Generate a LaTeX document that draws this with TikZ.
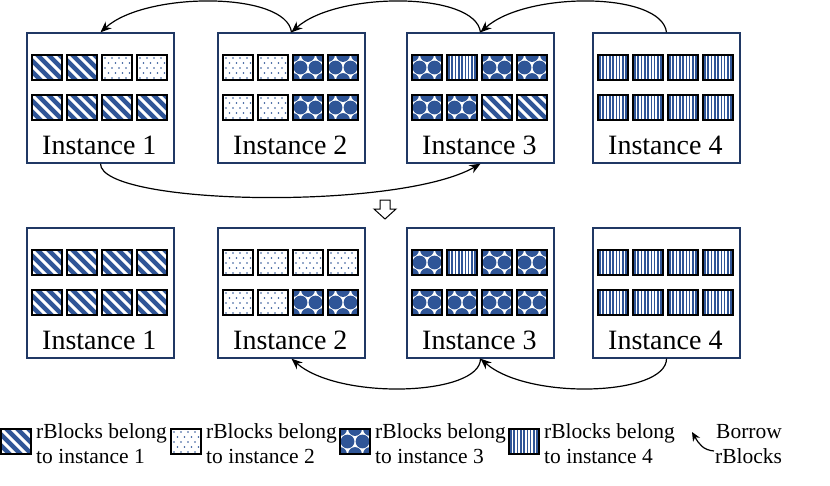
\documentclass[tikz,border=0pt]{standalone}
\usepackage{fontspec}
\setmainfont{Liberation Serif}
\usetikzlibrary{calc,arrows.meta}
\definecolor{pblue}{RGB}{47,85,151}
\definecolor{navy}{RGB}{32,56,100}
\newcommand{\patD}{\fill[pblue] (0,0) rectangle (30,25);
  \foreach \k in {-33,-22,...,33} \draw[white, line width=3pt] (\k,0) -- ++(25,25);}
\newcommand{\patP}{\fill[white] (0,0) rectangle (30,25);
  \foreach \j in {0,...,4} \foreach \i in {0,...,4} \fill[pblue] ({3+7*\i+mod(\j,2)*3.5},{3+5*\j}) circle (0.8);}
\newcommand{\patX}{\fill[white] (0,0) rectangle (30,25);
  \foreach \px/\py in {0/0,15/0,30/0,7.5/12.5,22.5/12.5,0/25,15/25,30/25}
    \fill[pblue] (\px,\py) circle (6.9);}
\newcommand{\patV}{\fill[white] (0,0) rectangle (30,25);
  \foreach \k in {0,...,8} \fill[pblue] ({1+3.3*\k},0) rectangle ++(1.6,25);}
\newcommand{\rblk}[3]{%
  \begin{scope}[shift={(#1,#2)}]
    \begin{scope}
      \clip (0,0) rectangle (30,25);
      \csname pat#3\endcsname
    \end{scope}
    \draw[line width=1.8pt] (0,0) rectangle (30,25);
  \end{scope}}
\newcommand{\irow}[6]{%
  \rblk{#1+5}{#2}{#3}\rblk{#1+40}{#2}{#4}\rblk{#1+75}{#2}{#5}\rblk{#1+110}{#2}{#6}}
\tikzset{
  ibox/.style={draw=navy, line width=1.4pt, fill=white, minimum width=147pt, minimum height=130pt, inner sep=0pt},
  itext/.style={inner sep=0pt, anchor=base west},
  ltext/.style={inner sep=0pt, anchor=base west},
  conn/.style={-{Stealth[length=11pt,width=9pt]}, line width=1.2pt},
  connsmall/.style={-{Stealth[length=9pt,width=8pt]}, line width=1.2pt},
}
\newcommand{\itx}[1]{\fontsize{28}{32}\selectfont #1}
\newcommand{\ltx}[1]{\fontsize{21.5}{25}\selectfont #1}
\begin{document}
\begin{tikzpicture}[x=1pt,y=-1pt]
\useasboundingbox (0,0) rectangle (830,485);
% top row
\node[ibox] (a1) at (100.5,98) {};
\node[ibox] (a2) at (291.5,98) {};
\node[ibox] (a3) at (480.5,98) {};
\node[ibox] (a4) at (666.5,98) {};
\irow{27}{55}{D}{D}{P}{P}
\irow{27}{95}{D}{D}{D}{D}
\irow{218}{55}{P}{P}{X}{X}
\irow{218}{95}{P}{P}{X}{X}
\irow{407}{55}{X}{V}{X}{X}
\irow{407}{95}{X}{X}{D}{D}
\irow{593}{55}{V}{V}{V}{V}
\irow{593}{95}{V}{V}{V}{V}
\node[itext] (a1t) at (42,154) {\itx{Instance 1}};
\node[itext] (a2t) at (233,154) {\itx{Instance 2}};
\node[itext] (a3t) at (422,154) {\itx{Instance 3}};
\node[itext] (a4t) at (608,154) {\itx{Instance 4}};
% bottom row
\node[ibox] (b1) at (100.5,293) {};
\node[ibox] (b2) at (291.5,293) {};
\node[ibox] (b3) at (480.5,293) {};
\node[ibox] (b4) at (666.5,293) {};
\irow{27}{250}{D}{D}{D}{D}
\irow{27}{290}{D}{D}{D}{D}
\irow{218}{250}{P}{P}{P}{P}
\irow{218}{290}{P}{P}{X}{X}
\irow{407}{250}{X}{V}{X}{X}
\irow{407}{290}{X}{X}{X}{X}
\irow{593}{250}{V}{V}{V}{V}
\irow{593}{290}{V}{V}{V}{V}
\node[itext] (b1t) at (42,349) {\itx{Instance 1}};
\node[itext] (b2t) at (233,349) {\itx{Instance 2}};
\node[itext] (b3t) at (422,349) {\itx{Instance 3}};
\node[itext] (b4t) at (608,349) {\itx{Instance 4}};
% top arcs
\draw[conn] (a4.north) .. controls ($(a4.north)+(-5,-41)$) and ($(a3.north)+(45,-41)$) .. (a3.north);
\draw[conn] (a3.north) .. controls ($(a3.north)+(-5,-41)$) and ($(a2.north)+(45,-41)$) .. (a2.north);
\draw[conn] (a2.north) .. controls ($(a2.north)+(-5,-41)$) and ($(a1.north)+(45,-41)$) .. (a1.north);
\draw[conn] (a1.south) .. controls ($(a1.south)+(0,42)$) and ($(a3.south)+(-82,47)$) .. (a3.south);
% bottom arcs
\draw[conn] (b3.south) .. controls ($(b3.south)+(0,37)$) and ($(b2.south)+(48,42)$) .. (b2.south);
\draw[conn] (b4.south) .. controls ($(b4.south)+(0,37)$) and ($(b3.south)+(48,42)$) .. (b3.south);
% hollow down arrow
\draw[line width=1pt, fill=white] (380,200) -- (390,200) -- (390,209) -- (396,209) -- (385,219) -- (374,209) -- (380,209) -- cycle;
% legend
\rblk{1}{429}{D}
\rblk{171}{429}{P}
\rblk{340}{429}{X}
\rblk{509}{429}{V}
\node[ltext] (l1a) at (36,438) {\ltx{rBlocks belong}};
\node[ltext] (l1b) at (36,463) {\ltx{to instance 1}};
\node[ltext] (l2a) at (206,438) {\ltx{rBlocks belong}};
\node[ltext] (l2b) at (206,463) {\ltx{to instance 2}};
\node[ltext] (l3a) at (375,438) {\ltx{rBlocks belong}};
\node[ltext] (l3b) at (375,463) {\ltx{to instance 3}};
\node[ltext] (l4a) at (544,438) {\ltx{rBlocks belong}};
\node[ltext] (l4b) at (544,463) {\ltx{to instance 4}};
\coordinate (bws) at (714,451);
\coordinate (bwe) at (692,432);
\draw[connsmall] (bws) .. controls (703,450) and (699,444) .. (bwe);
\node[ltext] (l5a) at (716,438) {\ltx{Borrow}};
\node[ltext] (l5b) at (715,463) {\ltx{rBlocks}};
\end{tikzpicture}
\end{document}
